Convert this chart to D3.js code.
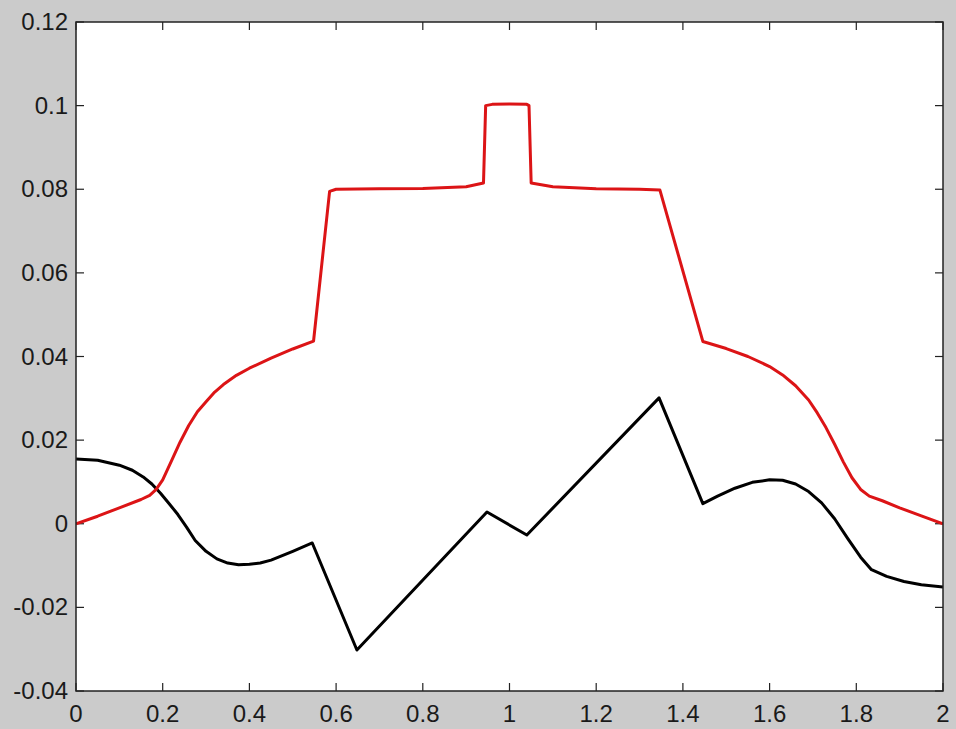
<!DOCTYPE html>
<html>
<head>
<meta charset="utf-8">
<script src="https://cdn.jsdelivr.net/npm/d3@7"></script>
<style>
  html, body { margin: 0; padding: 0; background: #cbcbcb; }
  svg { display: block; }
  text { font-family: "Liberation Sans", Arial, sans-serif; fill: #1a1a1a; }
</style>
</head>
<body>
<svg id="chart" width="956" height="729"></svg>
<script>
// Axis ticks
const xTicks = [0, 0.2, 0.4, 0.6, 0.8, 1, 1.2, 1.4, 1.6, 1.8, 2];
const yTicks = [-0.04, -0.02, 0, 0.02, 0.04, 0.06, 0.08, 0.1, 0.12];

// Red trace
const redX = [0, 0.05, 0.1, 0.15, 0.17, 0.185, 0.2, 0.22, 0.24, 0.26, 0.28, 0.3, 0.32, 0.34, 0.37, 0.4, 0.45, 0.5, 0.548,
              0.585, 0.6, 0.7, 0.8, 0.9, 0.94, 0.945, 0.96, 1.0, 1.04, 1.045, 1.05, 1.1, 1.2, 1.3, 1.347,
              1.446, 1.5, 1.55, 1.6, 1.63, 1.66, 1.69, 1.71, 1.73, 1.75, 1.77, 1.79, 1.81, 1.83, 1.86, 1.9, 1.95, 2];
const redY = [0, 0.0018, 0.0038, 0.0058, 0.0068, 0.0082, 0.0105, 0.015, 0.0195, 0.0235, 0.0268, 0.0292, 0.0315, 0.0333, 0.0355, 0.0372, 0.0396, 0.0418, 0.0437,
              0.0795, 0.0800, 0.0801, 0.0802, 0.0806, 0.0815, 0.1, 0.1003, 0.1004, 0.1003, 0.1, 0.0815, 0.0806, 0.0801, 0.0800, 0.0798,
              0.0436, 0.0419, 0.0400, 0.0376, 0.0356, 0.0330, 0.0296, 0.0265, 0.0230, 0.0190, 0.0148, 0.0110, 0.0082, 0.0066, 0.0055, 0.0038, 0.0019, 0];

// Black trace
const blackX = [0, 0.05, 0.1, 0.13, 0.155, 0.175, 0.195, 0.215, 0.235, 0.255, 0.275, 0.3, 0.325, 0.35, 0.375, 0.4, 0.425, 0.45, 0.5, 0.545,
                0.648, 0.948, 1.04, 1.345,
                1.446, 1.48, 1.52, 1.56, 1.6, 1.63, 1.66, 1.69, 1.72, 1.75, 1.78, 1.81, 1.835, 1.87, 1.91, 1.95, 2];
const blackY = [0.0155, 0.0152, 0.0140, 0.0128, 0.0112, 0.0095, 0.0073, 0.0048, 0.0022, -0.0008, -0.0040, -0.0066, -0.0084, -0.0094, -0.0098, -0.0097, -0.0094, -0.0087, -0.0066, -0.0046,
                -0.0302, 0.0028, -0.0027, 0.0301,
                0.0048, 0.0066, 0.0085, 0.0099, 0.0105, 0.0104, 0.0095, 0.0077, 0.0050, 0.0012, -0.0035, -0.0080, -0.0110, -0.0126, -0.0138, -0.0146, -0.0151];

const svg = d3.select("#chart");
const plotL = 76, plotR = 943, plotT = 22, plotB = 691;

const x = d3.scaleLinear().domain([0, 2]).range([plotL, plotR]);
const y = d3.scaleLinear().domain([-0.04, 0.12]).range([plotB, plotT]);

// Plot area
svg.append("rect")
  .attr("x", plotL).attr("y", plotT)
  .attr("width", plotR - plotL).attr("height", plotB - plotT)
  .attr("fill", "#ffffff");

const fmt = d => (Math.abs(d) < 1e-12 ? "0" : String(+d.toFixed(2)));

// Inward ticks on all four sides
const tickLen = 8;
const gAxes = svg.append("g").attr("stroke", "#222").attr("stroke-width", 1.2);
xTicks.forEach(t => {
  gAxes.append("line").attr("x1", x(t)).attr("x2", x(t)).attr("y1", plotB).attr("y2", plotB - tickLen);
  gAxes.append("line").attr("x1", x(t)).attr("x2", x(t)).attr("y1", plotT).attr("y2", plotT + tickLen);
});
yTicks.forEach(t => {
  gAxes.append("line").attr("y1", y(t)).attr("y2", y(t)).attr("x1", plotL).attr("x2", plotL + tickLen);
  gAxes.append("line").attr("y1", y(t)).attr("y2", y(t)).attr("x1", plotR).attr("x2", plotR - tickLen);
});

// Tick labels
svg.append("g").selectAll("text").data(xTicks).join("text")
  .attr("x", d => x(d)).attr("y", plotB + 31)
  .attr("text-anchor", "middle")
  .attr("font-size", 24)
  .text(fmt);

svg.append("g").selectAll("text").data(yTicks).join("text")
  .attr("x", plotL - 8).attr("y", d => y(d) + 8)
  .attr("text-anchor", "end")
  .attr("font-size", 24)
  .text(fmt);

// Traces
const line = d3.line().x(d => x(d[0])).y(d => y(d[1])).curve(d3.curveLinear);
const redPts = redX.map((v, i) => [v, redY[i]]);
const blackPts = blackX.map((v, i) => [v, blackY[i]]);

svg.append("clipPath").attr("id", "plotclip")
  .append("rect").attr("x", plotL).attr("y", plotT).attr("width", plotR - plotL).attr("height", plotB - plotT);

const gLines = svg.append("g").attr("clip-path", "url(#plotclip)");
gLines.append("path").datum(blackPts)
  .attr("d", line).attr("fill", "none")
  .attr("stroke", "#000").attr("stroke-width", 3).attr("stroke-linejoin", "round");
gLines.append("path").datum(redPts)
  .attr("d", line).attr("fill", "none")
  .attr("stroke", "#dc1416").attr("stroke-width", 3).attr("stroke-linejoin", "round");

// Box
svg.append("rect")
  .attr("x", plotL).attr("y", plotT)
  .attr("width", plotR - plotL).attr("height", plotB - plotT)
  .attr("fill", "none").attr("stroke", "#222").attr("stroke-width", 1.5);
</script>
</body>
</html>
